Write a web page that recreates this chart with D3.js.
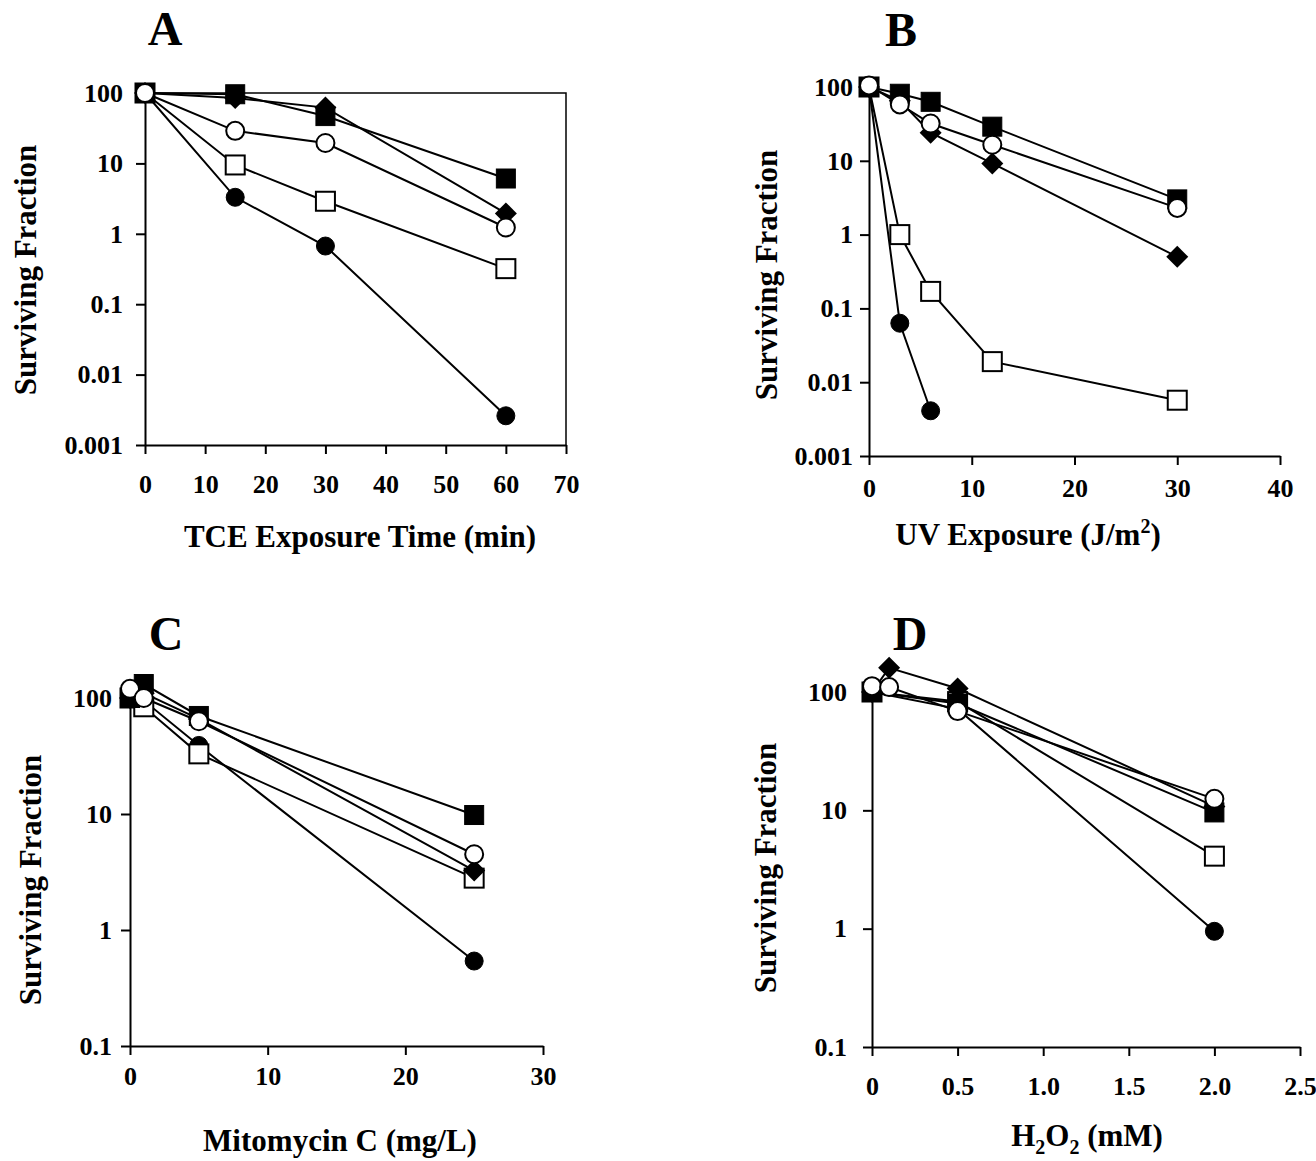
<!DOCTYPE html>
<html>
<head>
<meta charset="utf-8">
<script src="https://cdn.jsdelivr.net/npm/d3@7"></script>
<style>
  body { margin: 0; background: #fff; }
  text { font-family: "Liberation Serif", "Times New Roman", serif; font-weight: bold; fill: #000; }
  .axis text { font-size: 26px; }
  .axis path, .axis line { stroke: #000; stroke-width: 2px; }
  .title { font-size: 48px; }
  .label { font-size: 31px; }
</style>
</head>
<body>
<div id="chart"></div>
<script>
/* Data: surviving fraction per strain */
var shapes = ["filledCircle", "openSquare", "diamond", "filledSquare", "openCircle"];

// A - TCE exposure time (min)
var doseA = [0, 15, 30, 60];
var aFilledCircle = [100, 3.3, 0.67, 0.0026];
var aOpenSquare = [100, 9.5, 2.9, 0.32];
var aDiamond = [100, 85, 62, 1.95];
var aFilledSquare = [100, 96, 47, 6.1];
var aOpenCircle = [100, 29, 19.5, 1.23];
var xTicksA = [0, 10, 20, 30, 40, 50, 60, 70];
var yTicksA = [0.001, 0.01, 0.1, 1, 10, 100];
var yTickLabelsA = ["0.001", "0.01", "0.1", "1", "10", "100"];

// B - UV exposure (J/m2)
var doseB = [0, 3, 6, 12, 30];
var bFilledCircle = [100, 0.063, 0.0041, null, null];
var bOpenSquare = [100, 1.0, 0.17, 0.019, 0.0057];
var bDiamond = [100, 65, 24, 9.2, 0.5];
var bFilledSquare = [100, 81, 63, 29, 3.0];
var bOpenCircle = [105, 58, 32, 16.5, 2.3];
var xTicksB = [0, 10, 20, 30, 40];
var yTicksB = [0.001, 0.01, 0.1, 1, 10, 100];
var yTickLabelsB = ["0.001", "0.01", "0.1", "1", "10", "100"];

// C - Mitomycin C (mg/L)
var doseC = [0, 1, 5, 25];
var cFilledCircle = [100, 95, 39, 0.54];
var cOpenSquare = [100, 84, 33, 2.8];
var cDiamond = [100, 110, 66, 3.25];
var cFilledSquare = [100, 132, 70, 9.8];
var cOpenCircle = [120, 100, 63, 4.5];
var xTicksC = [0, 10, 20, 30];
var yTicksC = [0.1, 1, 10, 100];
var yTickLabelsC = ["0.1", "1", "10", "100"];

// D - H2O2 (mM)
var doseD = [0, 0.1, 0.5, 2.0];
var dFilledCircle = [100, null, 72, 0.95];
var dOpenSquare = [100, null, 83, 4.1];
var dDiamond = [100, 160, 107, 10.8];
var dFilledSquare = [100, null, 80, 9.6];
var dOpenCircle = [112, 110, 69, 12.5];
var xTicksD = [0, 0.5, 1.0, 1.5, 2.0, 2.5];
var xTickLabelsD = ["0", "0.5", "1.0", "1.5", "2.0", "2.5"];
var yTicksD = [0.1, 1, 10, 100];
var yTickLabelsD = ["0.1", "1", "10", "100"];

function buildSeries(dose, lists) {
  return shapes.map(function (s, k) {
    return {
      shape: s,
      values: dose.map(function (x, i) { return { x: x, y: lists[k][i] }; })
        .filter(function (d) { return d.y != null; })
    };
  });
}

var panels = [{
  title: "A", titleX: 165, titleY: 45,
  series: buildSeries(doseA, [aFilledCircle, aOpenSquare, aDiamond, aFilledSquare, aOpenCircle]),
  xDomain: [0, 70], yDomain: [0.001, 100],
  xTicks: xTicksA, xTickLabels: xTicksA.map(String), yTicks: yTicksA, yTickLabels: yTickLabelsA,
  left: 145, right: 566, top: 93, bottom: 445, xPad: 21, yPad: 13, frame: true,
  xLabel: [{ t: "TCE Exposure Time (min)" }], xLabelX: 360, xLabelY: 547,
  yLabelX: 36, yLabelY: 270
}, {
  title: "B", titleX: 901, titleY: 46,
  series: buildSeries(doseB, [bFilledCircle, bOpenSquare, bDiamond, bFilledSquare, bOpenCircle]),
  xDomain: [0, 40], yDomain: [0.001, 100],
  xTicks: xTicksB, xTickLabels: xTicksB.map(String), yTicks: yTicksB, yTickLabels: yTickLabelsB,
  left: 869, right: 1280, top: 87, bottom: 456, xPad: 14, yPad: 7, frame: false,
  xLabel: [{ t: "UV Exposure (J/m" }, { t: "2", shift: -12 }, { t: ")" }], xLabelX: 1028, xLabelY: 545,
  yLabelX: 777, yLabelY: 275
}, {
  title: "C", titleX: 166, titleY: 650,
  series: buildSeries(doseC, [cFilledCircle, cOpenSquare, cDiamond, cFilledSquare, cOpenCircle]),
  xDomain: [0, 30], yDomain: [0.1, 100],
  xTicks: xTicksC, xTickLabels: xTicksC.map(String), yTicks: yTicksC, yTickLabels: yTickLabelsC,
  left: 130, right: 543, top: 698, bottom: 1046, xPad: 12, yPad: 9, frame: false,
  xLabel: [{ t: "Mitomycin C (mg/L)" }], xLabelX: 340, xLabelY: 1151,
  yLabelX: 41, yLabelY: 880
}, {
  title: "D", titleX: 910, titleY: 650,
  series: buildSeries(doseD, [dFilledCircle, dOpenSquare, dDiamond, dFilledSquare, dOpenCircle]),
  xDomain: [0, 2.5], yDomain: [0.1, 100],
  xTicks: xTicksD, xTickLabels: xTickLabelsD, yTicks: yTicksD, yTickLabels: yTickLabelsD,
  left: 872, right: 1300, top: 692, bottom: 1047, xPad: 21, yPad: 16, frame: false,
  xLabel: [{ t: "H" }, { t: "2", shift: 8 }, { t: "O" }, { t: "2", shift: 8 }, { t: " (mM)" }],
  xLabelX: 1087, xLabelY: 1146,
  yLabelX: 776, yLabelY: 868
}];

var markerSize = 19;
var circleRadius = 9;
var diamondHalf = 11;

/* Add SVG */
var svg = d3.select("#chart").append("svg")
  .attr("width", 1316)
  .attr("height", 1161);

panels.forEach(function (p) {
  var xScale = d3.scaleLinear().domain(p.xDomain).range([p.left, p.right]);
  var yScale = d3.scaleLog().domain(p.yDomain).range([p.bottom, p.top]);
  var g = svg.append("g");

  /* axes */
  var xAxis = d3.axisBottom(xScale)
    .tickValues(p.xTicks)
    .tickFormat(function (d, i) { return p.xTickLabels[i]; })
    .tickSize(9).tickSizeOuter(0).tickPadding(p.xPad);
  var yAxis = d3.axisLeft(yScale)
    .tickValues(p.yTicks)
    .tickFormat(function (d, i) { return p.yTickLabels[i]; })
    .tickSize(9).tickSizeOuter(0).tickPadding(p.yPad);

  g.append("g")
    .attr("class", "axis")
    .attr("transform", `translate(0, ${p.bottom})`)
    .call(xAxis);
  g.append("g")
    .attr("class", "axis")
    .attr("transform", `translate(${p.left}, 0)`)
    .call(yAxis);

  if (p.frame) {
    g.append("path")
      .attr("d", `M${p.left},${p.top}H${p.right}V${p.bottom}`)
      .attr("fill", "none")
      .attr("stroke", "#000")
      .attr("stroke-width", 1.5);
  }

  /* lines */
  var line = d3.line()
    .x(function (d) { return xScale(d.x); })
    .y(function (d) { return yScale(d.y); });

  g.selectAll(".series-line")
    .data(p.series).enter()
    .append("path")
    .attr("class", "series-line")
    .attr("d", function (d) { return line(d.values); })
    .attr("fill", "none")
    .attr("stroke", "#000")
    .attr("stroke-width", 2);

  /* markers */
  p.series.forEach(function (s) {
    var pts = g.append("g").selectAll("g")
      .data(s.values).enter()
      .append("g")
      .attr("transform", function (d) { return `translate(${xScale(d.x)}, ${yScale(d.y)})`; });
    if (s.shape === "filledSquare" || s.shape === "openSquare") {
      var open = s.shape === "openSquare";
      pts.append("rect")
        .attr("x", -markerSize / 2).attr("y", -markerSize / 2)
        .attr("width", markerSize).attr("height", markerSize)
        .attr("fill", open ? "#fff" : "#000")
        .attr("stroke", "#000").attr("stroke-width", open ? 2 : 1);
    } else if (s.shape === "filledCircle" || s.shape === "openCircle") {
      var openC = s.shape === "openCircle";
      pts.append("circle")
        .attr("r", circleRadius)
        .attr("fill", openC ? "#fff" : "#000")
        .attr("stroke", "#000").attr("stroke-width", openC ? 2 : 1);
    } else {
      pts.append("path")
        .attr("d", `M0,${-diamondHalf}L${diamondHalf},0L0,${diamondHalf}L${-diamondHalf},0Z`)
        .attr("fill", "#000");
    }
  });

  /* texts */
  g.append("text")
    .attr("class", "title")
    .attr("x", p.titleX).attr("y", p.titleY)
    .attr("text-anchor", "middle")
    .text(p.title);

  var xl = g.append("text")
    .attr("class", "label")
    .attr("x", p.xLabelX).attr("y", p.xLabelY)
    .attr("text-anchor", "middle");
  var cur = 0;
  p.xLabel.forEach(function (part) {
    var shift = part.shift || 0;
    var ts = xl.append("tspan").text(part.t).attr("dy", shift - cur);
    if (shift) ts.style("font-size", "20px");
    cur = shift;
  });

  g.append("text")
    .attr("class", "label")
    .attr("transform", `translate(${p.yLabelX}, ${p.yLabelY}) rotate(-90)`)
    .attr("text-anchor", "middle")
    .text("Surviving Fraction");
});
</script>
</body>
</html>
